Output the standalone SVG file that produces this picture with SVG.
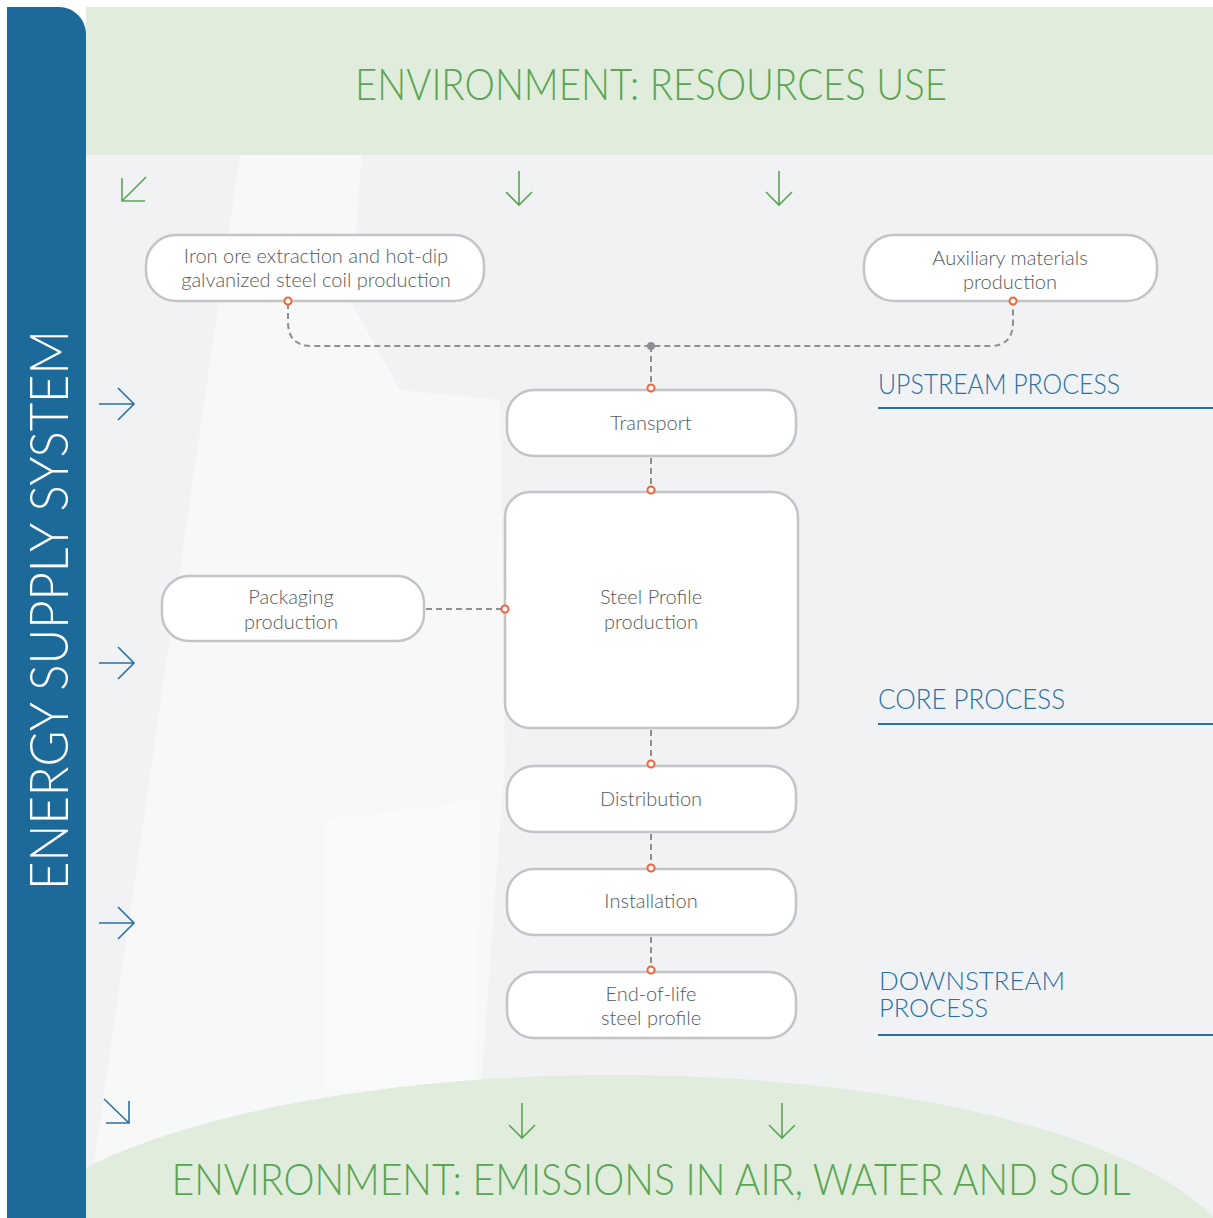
<svg xmlns="http://www.w3.org/2000/svg" width="1213" height="1218" viewBox="0 0 1213 1218">
<defs>
<style>
.node rect{fill:#ffffff;stroke:#c3c4c8;stroke-width:2.5}
.node text{font-family:Lato,"Liberation Sans",sans-serif;font-weight:300;font-size:20px;fill:#55595d;text-anchor:middle}
.conn{fill:none;stroke:#8e8f93;stroke-width:2;stroke-dasharray:6 4}
.port{fill:#ffffff;stroke:#f0643a;stroke-width:2}
.garrow{fill:none;stroke:#5aa552;stroke-width:1.6}
.barrow{fill:none;stroke:#2a70a4;stroke-width:1.6}
.env{font-family:Lato,"Liberation Sans",sans-serif;font-weight:300;font-size:43px;fill:#5aa552}
.phase{font-family:Lato,"Liberation Sans",sans-serif;font-weight:300;font-size:28px;fill:#2a70a4}
.phase2{font-family:Lato,"Liberation Sans",sans-serif;font-weight:300;font-size:26px;fill:#2a70a4}
.rule{stroke:#2a70a4;stroke-width:2}
</style>
</defs>
<rect x="0" y="0" width="1213" height="1218" fill="#ffffff"/>
<g id="background">
<rect x="86" y="155" width="1127" height="1063" fill="#f1f2f4"/>
<polygon points="240,155 362,155 350,300 400,390 500,400 505,760 480,1100 90,1218 86,1218" fill="#f7f8f8"/>
<polygon points="325,820 480,800 475,1090 325,1090" fill="#f9fafa"/>
<rect x="86" y="7" width="1127" height="148" fill="#e0ecdc"/>
<ellipse cx="614" cy="1274" rx="625" ry="199" fill="#e0ecdc"/>
<path d="M7,7 H59 A27,27 0 0 1 86,34 V1218 H7 Z" fill="#1b6a9a"/>
</g>
<g id="titles">
<text class="env" x="651" y="100" text-anchor="middle" textLength="592" lengthAdjust="spacingAndGlyphs">ENVIRONMENT: RESOURCES USE</text>
<text class="env" x="651" y="1195" text-anchor="middle" textLength="959" lengthAdjust="spacingAndGlyphs">ENVIRONMENT: EMISSIONS IN AIR, WATER AND SOIL</text>
<text x="0" y="0" transform="translate(68,610) rotate(-90)" text-anchor="middle" font-family="Lato,'Liberation Sans',sans-serif" font-weight="300" font-size="54" fill="#ffffff" textLength="560" lengthAdjust="spacingAndGlyphs">ENERGY SUPPLY SYSTEM</text>
</g>
<g id="phases">
<text class="phase" x="878" y="394" textLength="242" lengthAdjust="spacingAndGlyphs">UPSTREAM PROCESS</text>
<line class="rule" x1="878" y1="408" x2="1213" y2="408"/>
<text class="phase" x="878" y="709" textLength="187" lengthAdjust="spacingAndGlyphs">CORE PROCESS</text>
<line class="rule" x1="878" y1="724" x2="1213" y2="724"/>
<text class="phase2" x="879" y="990" textLength="186" lengthAdjust="spacingAndGlyphs">DOWNSTREAM</text>
<text class="phase2" x="879" y="1017" textLength="109" lengthAdjust="spacingAndGlyphs">PROCESS</text>
<line class="rule" x1="878" y1="1035" x2="1213" y2="1035"/>
</g>
<g id="arrows">
<path class="garrow" d="M146,177 L122,201 M122,178 V201 H145"/>
<path class="garrow" d="M519,171 V205 M506,192 L519,205 L532,192"/>
<path class="garrow" d="M779,171 V205 M766,192 L779,205 L792,192"/>
<path class="barrow" d="M99,404 H134 M118,388 L134,404 L118,420"/>
<path class="barrow" d="M99,663 H134 M118,647 L134,663 L118,679"/>
<path class="barrow" d="M99,923 H134 M118,907 L134,923 L118,939"/>
<path class="barrow" d="M104,1099 L129,1123 M129,1101 V1123 H106"/>
<path class="garrow" d="M522,1103 V1138 M509,1125 L522,1138 L535,1125"/>
<path class="garrow" d="M782,1103 V1138 M769,1125 L782,1138 L795,1125"/>
</g>
<g id="connectors">
<path class="conn" d="M288,303 V322 Q288,346 312,346 H990 Q1013,346 1013,322 V303"/>
<path class="conn" d="M651,346 V386"/>
<path class="conn" d="M651,458 V488"/>
<path class="conn" d="M426,609 H503"/>
<path class="conn" d="M651,730 V762"/>
<path class="conn" d="M651,834 V866"/>
<path class="conn" d="M651,937 V968"/>
<circle cx="651" cy="346" r="4" fill="#8e8f93"/>
</g>
<g id="node-iron" class="node">
<rect x="146" y="235" width="338" height="66" rx="30"/>
<text x="316" y="263">Iron ore extraction and hot-dip</text>
<text x="316" y="287">galvanized steel coil production</text>
<circle class="port" cx="288" cy="301" r="3.5"/>
</g>
<g id="node-aux" class="node">
<rect x="864" y="235" width="293" height="66" rx="30"/>
<text x="1010" y="265">Auxiliary materials</text>
<text x="1010" y="289">production</text>
<circle class="port" cx="1013" cy="301" r="3.5"/>
</g>
<g id="node-transport" class="node">
<rect x="507" y="390" width="289" height="66" rx="27"/>
<text x="651" y="430">Transport</text>
<circle class="port" cx="651" cy="388" r="3.5"/>
</g>
<g id="node-steel" class="node">
<rect x="505" y="492" width="293" height="236" rx="25"/>
<text x="651" y="604">Steel Profile</text>
<text x="651" y="629">production</text>
<circle class="port" cx="651" cy="490" r="3.5"/>
<circle class="port" cx="505" cy="609" r="3.5"/>
</g>
<g id="node-packaging" class="node">
<rect x="162" y="576" width="262" height="65" rx="27"/>
<text x="291" y="604">Packaging</text>
<text x="291" y="629">production</text>
</g>
<g id="node-distribution" class="node">
<rect x="507" y="766" width="289" height="66" rx="27"/>
<text x="651" y="806">Distribution</text>
<circle class="port" cx="651" cy="764" r="3.5"/>
</g>
<g id="node-installation" class="node">
<rect x="507" y="869" width="289" height="66" rx="27"/>
<text x="651" y="908">Installation</text>
<circle class="port" cx="651" cy="868" r="3.5"/>
</g>
<g id="node-eol" class="node">
<rect x="507" y="972" width="289" height="66" rx="27"/>
<text x="651" y="1001">End-of-life</text>
<text x="651" y="1025">steel profile</text>
<circle class="port" cx="651" cy="970" r="3.5"/>
</g>
</svg>
